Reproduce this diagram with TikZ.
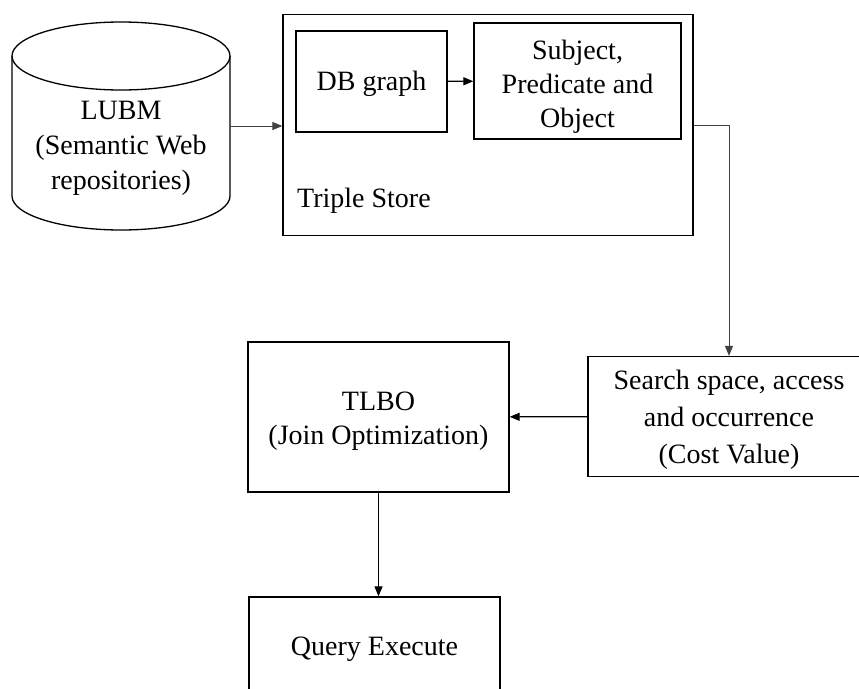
\documentclass[tikz,border=0pt]{standalone}
\usepackage{fontspec}
\setmainfont{Liberation Serif}
\usetikzlibrary{arrows.meta}
\begin{document}
\begin{tikzpicture}[x=1pt,y=-1pt,
  txt/.style={align=center, inner sep=0pt, font=\fontsize{28}{35}\selectfont},
  box/.style={draw, line width=1.3pt, inner sep=0pt},
  link/.style={line width=1.2pt, -{Triangle[length=10pt,width=8pt]}},
  thinlink/.style={line width=0.9pt, draw=black!75, -{Triangle[length=10pt,width=8pt]}},
  ]
\useasboundingbox (0,0) rectangle (859,688);

% database cylinder
\draw[line width=1.3pt] (121,56) ellipse [x radius=109, y radius=34];
\draw[line width=1.3pt] (12,56) -- (12,196)
  arc [start angle=180, end angle=0, x radius=109, y radius=34] -- (230,56);
\node[txt, minimum width=218pt, minimum height=140pt] (lubm) at (121,148)
  {LUBM\\(Semantic Web\\repositories)};
\coordinate (lubmside) at (230,126);

% triple store
\node[box, minimum width=410pt, minimum height=221pt] (ts) at (488,125) {};
\node[box, minimum width=151pt, minimum height=101pt] (db) at (371.5,81.5) {};
\node[txt] (dbtext) at (371.5,83.5) {DB graph};
\node[box, minimum width=207pt, minimum height=116pt] (spo) at (577.5,81) {};
\node[txt, font=\fontsize{28}{34}\selectfont] (spotext) at (577.5,87)
  {Subject,\\Predicate and\\Object};
\node[txt, anchor=west] (tslabel) at (297,201) {Triple Store};

% cost, optimisation and execution
\node[box, minimum width=282pt, minimum height=120pt] (cost) at (729,416.5) {};
\node[txt, font=\fontsize{28}{37}\selectfont] (costtext) at (729,420)
  {Search space, access\\and occurrence\\(Cost Value)};
\node[box, minimum width=261pt, minimum height=150pt] (tlbo) at (378.5,417) {};
\node[txt, font=\fontsize{28}{34}\selectfont] (tlbotext) at (378.5,421)
  {TLBO\\(Join Optimization)};
\node[box, minimum width=251pt, minimum height=102pt] (qe) at (374.5,648) {};
\node[txt] (qetext) at (374.5,649) {Query Execute};

% connectors
\draw[thinlink] (lubmside) -- (lubmside -| ts.west);
\draw[link] (db) -- (spo);
\draw[thinlink] (ts.east) -| (cost.north);
\draw[link] (cost) -- (tlbo);
\draw[link] (tlbo.south) -- (tlbo.south |- qe.north);
\end{tikzpicture}
\end{document}
